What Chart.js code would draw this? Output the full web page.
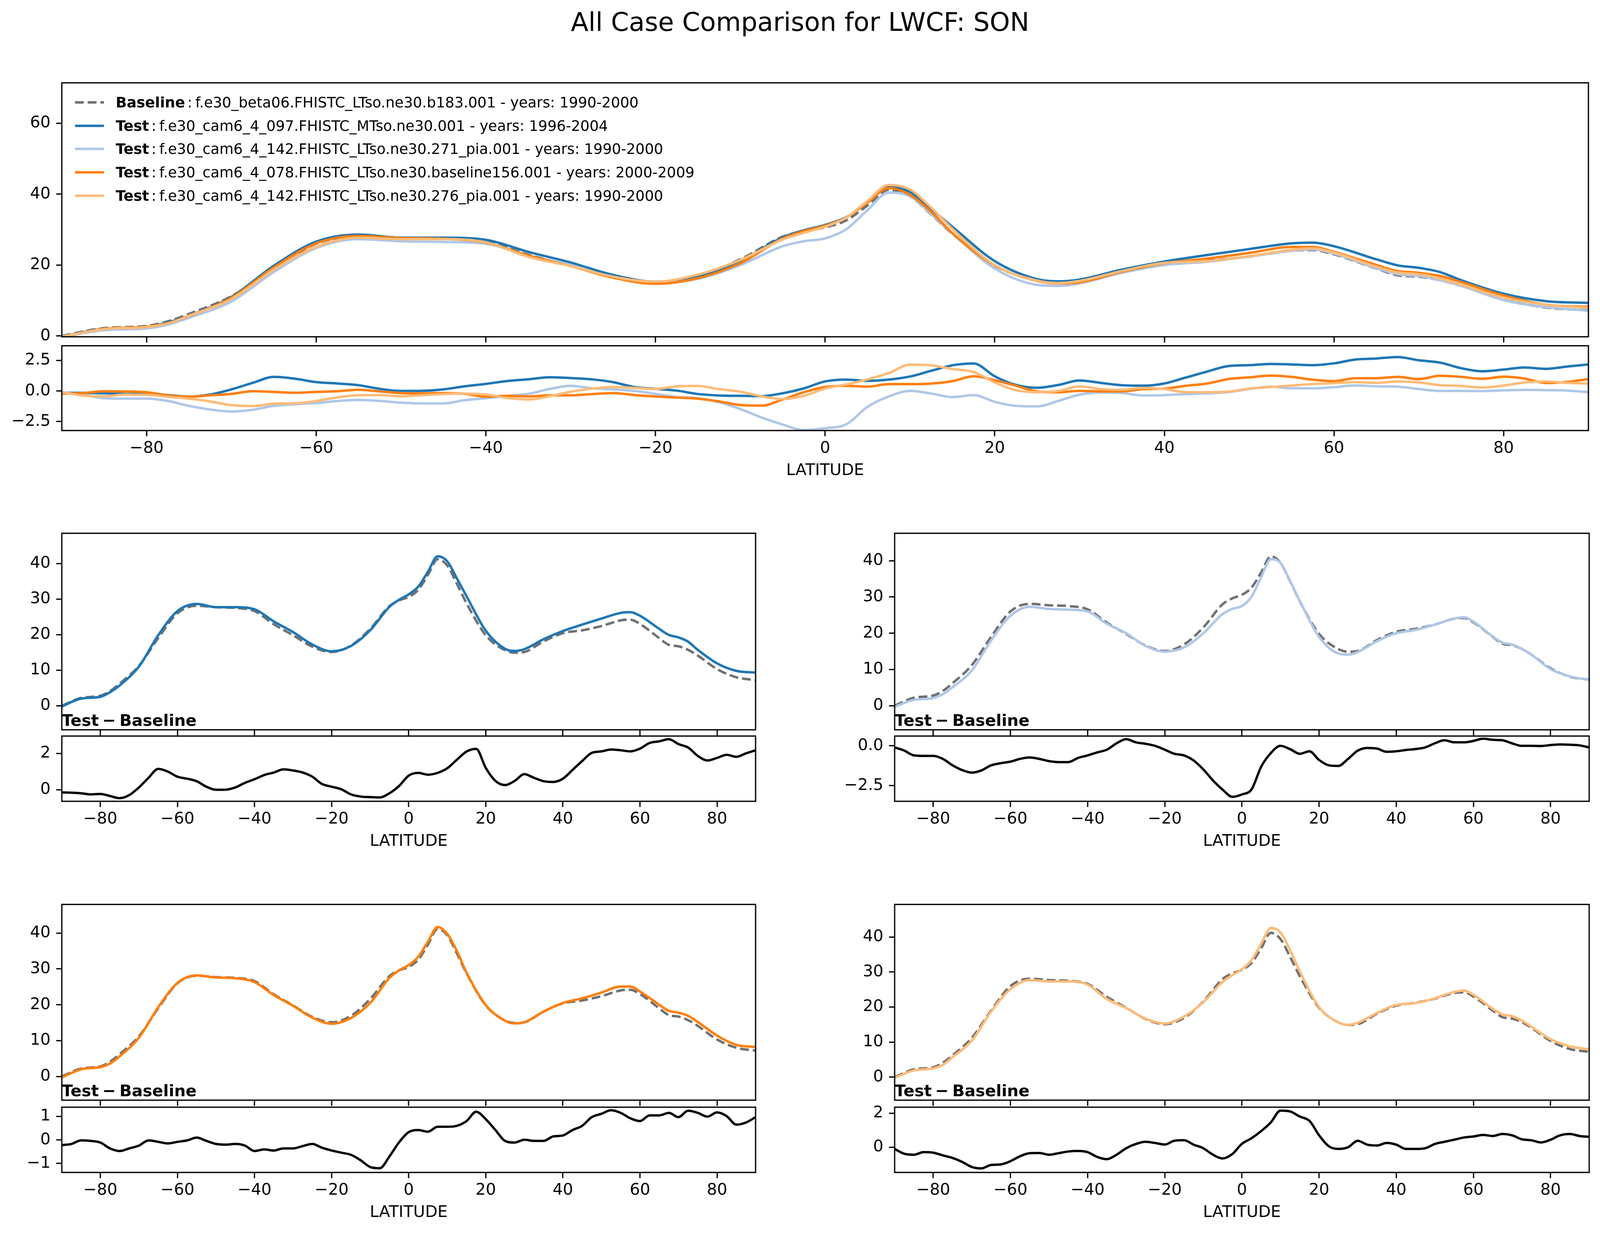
<!DOCTYPE html>
<html>
<head>
<meta charset="utf-8">
<title>All Case Comparison for LWCF: SON</title>
<script src="https://cdn.jsdelivr.net/npm/chart.js@4.4.1/dist/chart.umd.min.js"></script>
<style>
  html, body { margin: 0; padding: 0; background: #fff; overflow: hidden; }
  #page { position: absolute; left: 0; top: 0; width: 4142px; height: 3156px; transform-origin: 0 0; font-family: 'DejaVu Sans', sans-serif; color: #000; background: #fff; }
  .title { position: absolute; left: 0; top: 18px; width: 4142px; text-align: center; font-size: 66.7px; line-height: 1.164; }
  .tb { position: absolute; font-size: 41.7px; line-height: 1.164; font-weight: bold; white-space: nowrap; z-index: 2; }
  .leg { position: absolute; left: 194px; height: 44px; font-size: 37.5px; line-height: 44px; white-space: nowrap; display: flex; align-items: center; z-index: 2; }
  .leg span.t { margin-left: 30.5px; }
  .leg span.c { margin: 0 8px 0 6px; }
</style>
</head>
<body>
<div id="page">
<div class="title">All Case Comparison for LWCF: SON</div>
</div>

<script>
// latitude grid used for the zonal means
const latMain = [-90, -85, -80, -77.5, -75, -70, -65, -60, -55, -50, -45, -40, -35, -30, -25, -20, -15, -10, -5, -2.5,
  0, 2.5, 5, 7.5, 10, 12.5, 15, 20, 25, 27.5, 30, 35, 40, 45, 50, 55, 57.5, 60, 65, 67.5, 70, 72.5, 75, 80, 85, 90];

// LWCF zonal means (W/m2)
const baseline = [0.0, 2.2, 2.8, 4.1, 6.2, 11.2, 19.0, 26.0, 28.1, 27.7, 27.5, 26.6, 22.9, 19.8, 16.6, 15.1, 16.9, 21.6, 28.0, 29.6,
  30.6, 32.6, 36.8, 41.2, 39.4, 34.3, 28.8, 19.8, 15.6, 14.9, 15.1, 18.1, 20.4, 21.2, 22.4, 24.0, 24.2, 23.0, 19.0, 17.1, 16.7, 15.7, 14.1, 10.3, 8.0, 7.2];
const test097 = [-0.2, 2.0, 2.5, 3.8, 5.7, 11.0, 19.8, 26.6, 28.6, 27.7, 27.7, 27.1, 23.7, 20.7, 17.2, 15.3, 16.8, 21.2, 27.8, 29.8,
  31.3, 33.5, 37.7, 42.0, 40.6, 35.8, 30.8, 21.1, 16.0, 15.4, 15.9, 18.7, 21.0, 22.8, 24.5, 26.1, 26.3, 25.3, 21.6, 19.9, 19.2, 18.0, 15.7, 11.9, 9.8, 9.3];
const test271 = [-0.3, 1.6, 2.1, 3.2, 5.1, 9.7, 18.0, 24.8, 27.3, 26.7, 26.5, 26.0, 22.6, 20.0, 16.5, 14.9, 16.1, 20.0, 25.3, 26.7,
  27.5, 30.1, 35.5, 40.4, 39.4, 34.4, 28.9, 19.0, 14.4, 14.1, 14.8, 17.8, 20.0, 20.9, 22.4, 24.0, 24.4, 23.2, 19.1, 17.4, 16.9, 15.7, 14.1, 10.1, 8.1, 7.1];
const test156 = [-0.3, 2.0, 2.6, 3.6, 5.6, 10.8, 19.3, 26.1, 28.2, 27.6, 27.4, 26.3, 22.7, 19.7, 16.4, 14.7, 16.3, 20.5, 27.5, 29.6,
  31.1, 33.4, 37.6, 41.7, 39.8, 35.0, 29.0, 19.9, 15.5, 14.8, 15.1, 18.1, 20.5, 21.8, 23.4, 25.1, 25.1, 23.7, 20.0, 18.3, 17.8, 16.9, 15.2, 11.4, 8.8, 8.2];
const test276 = [-0.2, 1.9, 2.5, 3.5, 5.7, 10.4, 18.7, 25.1, 27.7, 27.3, 27.3, 26.4, 22.3, 19.7, 16.7, 15.3, 17.3, 21.4, 27.2, 29.1,
  30.8, 33.4, 38.1, 42.6, 41.3, 36.2, 30.2, 20.0, 15.6, 14.9, 15.5, 18.3, 20.6, 21.1, 22.5, 24.3, 24.7, 23.5, 19.5, 17.9, 17.4, 16.2, 14.4, 10.8, 8.8, 7.9];

// test minus baseline, finer grid
const latDiff = [-90, -87.5, -85, -82.5, -80, -77.5, -75, -72.5, -70, -67.5,
  -65, -62.5, -60, -57.5, -55, -52.5, -50, -47.5, -45, -42.5,
  -40, -37.5, -35, -32.5, -30, -27.5, -25, -22.5, -20, -17.5,
  -15, -12.5, -10, -7.5, -5, -2.5, 0, 2.5, 5, 7.5,
  10, 12.5, 15, 17.5, 20, 22.5, 25, 27.5, 30, 32.5,
  35, 37.5, 40, 42.5, 45, 47.5, 50, 52.5, 55, 57.5,
  60, 62.5, 65, 67.5, 70, 72.5, 75, 77.5, 80, 82.5,
  85, 87.5, 90];
const diff097 = [-0.14, -0.16, -0.19, -0.25, -0.23, -0.34, -0.46, -0.29, 0.13, 0.66,
  1.15, 1.00, 0.72, 0.61, 0.47, 0.17, 0.00, 0.01, 0.13, 0.38,
  0.58, 0.81, 0.95, 1.12, 1.06, 0.95, 0.72, 0.32, 0.17, 0.03,
  -0.25, -0.37, -0.40, -0.42, -0.19, 0.21, 0.78, 0.93, 0.83, 0.93,
  1.18, 1.65, 2.10, 2.25, 1.20, 0.49, 0.26, 0.49, 0.86, 0.66,
  0.47, 0.43, 0.61, 1.09, 1.58, 2.03, 2.11, 2.21, 2.17, 2.11,
  2.26, 2.57, 2.66, 2.78, 2.51, 2.32, 1.86, 1.61, 1.75, 1.92,
  1.81, 2.00, 2.17];
const diff271 = [-0.10, -0.30, -0.60, -0.63, -0.63, -0.82, -1.22, -1.52, -1.68, -1.54,
  -1.22, -1.09, -0.99, -0.82, -0.73, -0.82, -0.96, -1.02, -1.02, -0.76,
  -0.60, -0.41, -0.24, 0.16, 0.42, 0.22, 0.13, 0.00, -0.24, -0.50,
  -0.60, -0.92, -1.48, -2.17, -2.75, -3.20, -3.05, -2.73, -1.30, -0.45,
  0.00, -0.21, -0.50, -0.34, -0.89, -1.22, -1.26, -0.82, -0.30, -0.13,
  -0.17, -0.37, -0.34, -0.26, -0.20, -0.10, 0.16, 0.35, 0.22, 0.22,
  0.31, 0.45, 0.38, 0.35, 0.16, 0.00, 0.00, -0.01, 0.05, 0.09,
  0.07, 0.03, -0.10];
const diff156 = [-0.22, -0.17, -0.02, -0.04, -0.11, -0.36, -0.47, -0.36, -0.24, -0.02,
  -0.08, -0.15, -0.08, -0.02, 0.10, -0.04, -0.17, -0.20, -0.17, -0.24,
  -0.47, -0.40, -0.45, -0.36, -0.36, -0.26, -0.17, -0.33, -0.45, -0.54,
  -0.63, -0.86, -1.15, -1.20, -0.70, -0.10, 0.33, 0.42, 0.35, 0.56,
  0.56, 0.60, 0.80, 1.20, 0.88, 0.42, -0.04, -0.11, 0.01, -0.04,
  -0.04, 0.15, 0.19, 0.42, 0.60, 0.97, 1.11, 1.26, 1.15, 0.92,
  0.80, 1.04, 1.04, 1.15, 0.97, 1.24, 1.15, 0.99, 1.17, 1.01,
  0.65, 0.74, 0.97];
const diff276 = [-0.10, -0.38, -0.44, -0.29, -0.32, -0.48, -0.63, -0.86, -1.16, -1.24,
  -1.04, -1.01, -0.82, -0.53, -0.35, -0.34, -0.44, -0.35, -0.25, -0.22,
  -0.29, -0.57, -0.70, -0.44, -0.06, 0.19, 0.32, 0.25, 0.16, 0.38,
  0.41, 0.15, -0.06, -0.44, -0.66, -0.40, 0.20, 0.53, 0.95, 1.46,
  2.15, 2.10, 1.80, 1.55, 0.70, 0.06, -0.10, 0.00, 0.38, 0.15,
  0.10, 0.25, 0.15, -0.10, -0.10, -0.06, 0.19, 0.32, 0.44, 0.57,
  0.63, 0.72, 0.66, 0.78, 0.70, 0.47, 0.41, 0.28, 0.44, 0.70,
  0.78, 0.66, 0.61];

// ticks
const xTicks = [-80, -60, -40, -20, 0, 20, 40, 60, 80];
const topMainTicks = [0, 20, 40, 60];
const topDiffTicks = [-2.5, 0, 2.5];
const smallMainTicks = [0, 10, 20, 30, 40];

// legend text
const caseNames = [
  'f.e30_beta06.FHISTC_LTso.ne30.b183.001 - years: 1990-2000',
  'f.e30_cam6_4_097.FHISTC_MTso.ne30.001 - years: 1996-2004',
  'f.e30_cam6_4_142.FHISTC_LTso.ne30.271_pia.001 - years: 1990-2000',
  'f.e30_cam6_4_078.FHISTC_LTso.ne30.baseline156.001 - years: 2000-2009',
  'f.e30_cam6_4_142.FHISTC_LTso.ne30.276_pia.001 - years: 1990-2000'
];
const caseKinds = ['Baseline', 'Test', 'Test', 'Test', 'Test'];
const caseColors = ['#707070', '#1f77b4', '#aec7e8', '#ff7f0e', '#ffbb78'];

// the figure is laid out at 4142x3156; fit it to whatever viewport we get
const page = document.getElementById('page');
const sx = window.innerWidth / 4142, sy = window.innerHeight / 3156;
page.style.transform = 'scale(' + sx + ',' + sy + ')';

Chart.defaults.font.family = "'DejaVu Sans'";
Chart.defaults.color = '#000';

const fmt = (v, d) => (v < 0 ? '\u2212' : '') + Math.abs(v).toFixed(d);

// black box round every axes
const frame = {
  id: 'frame',
  afterDatasetsDraw(chart) {
    const a = chart.chartArea, c = chart.ctx;
    c.save();
    c.strokeStyle = '#000';
    c.lineWidth = 3.3;
    c.strokeRect(a.left, a.top, a.right - a.left, a.bottom - a.top);
    c.restore();
  }
};

function line(xs, ys, color, order, dashed, width) {
  return {
    data: xs.map((x, i) => ({ x: x, y: ys[i] })),
    borderColor: color,
    borderWidth: width || 6.25,
    borderDash: dashed ? [23, 10] : [],
    borderJoinStyle: 'round',
    pointRadius: 0,
    cubicInterpolationMode: 'monotone',
    fill: false,
    order: order
  };
}

function panel(r, datasets, yRange, yTicks, yDec, xLabels) {
  const padL = r.l > 1000 ? 220 : r.l;
  const padR = 26, padT = 14, padB = xLabels ? 140 : 24;
  const w = r.r - r.l + padL + padR, h = r.b - r.t + padT + padB;
  const cv = document.createElement('canvas');
  cv.width = w; cv.height = h;
  cv.style.cssText = 'position:absolute;left:' + (r.l - padL) + 'px;top:' + (r.t - padT) + 'px;width:' + w + 'px;height:' + h + 'px';
  page.appendChild(cv);

  const tickGrid = { drawOnChartArea: false, drawTicks: true, tickLength: 14.6, tickWidth: 3.3, tickColor: '#000', lineWidth: 3.3, color: '#000' };

  new Chart(cv, {
    type: 'line',
    data: { datasets: datasets },
    options: {
      responsive: false,
      animation: false,
      devicePixelRatio: 1,
      events: [],
      layout: { padding: { left: 0, top: padT, right: padR, bottom: 0 } },
      plugins: { legend: { display: false }, tooltip: { enabled: false } },
      scales: {
        x: {
          type: 'linear', min: -90, max: 90,
          grid: tickGrid, border: { display: false },
          afterBuildTicks: s => { s.ticks = xTicks.map(v => ({ value: v })); },
          afterFit: s => { s.height = padB; s.paddingLeft = 0; s.paddingRight = 0; },
          ticks: { autoSkip: false, maxRotation: 0, padding: 6.5, font: { size: 41.7 }, callback: v => xLabels ? fmt(v, 0) : '' },
          title: { display: xLabels, text: 'LATITUDE', font: { size: 41.7 }, padding: { top: 0, bottom: 12 } }
        },
        y: {
          type: 'linear', min: yRange[0], max: yRange[1],
          grid: tickGrid, border: { display: false },
          afterBuildTicks: s => { s.ticks = yTicks.map(v => ({ value: v })); },
          afterFit: s => { s.width = padL; s.paddingTop = 0; s.paddingBottom = 0; },
          ticks: { autoSkip: false, padding: 14.6, font: { size: 41.7 }, callback: v => fmt(v, yDec) }
        }
      }
    },
    plugins: [frame]
  });
}

const tests = [test097, test271, test156, test276];
const diffs = [diff097, diff271, diff156, diff276];

// top: all cases together
panel({ l: 160, t: 212, r: 4112, b: 862 },
  [line(latMain, baseline, caseColors[0], 5, true)].concat(tests.map((t, i) => line(latMain, t, caseColors[i + 1], 4 - i))),
  [-0.25, 71.4], topMainTicks, 0, false);
panel({ l: 160, t: 885, r: 4112, b: 1102 },
  diffs.map((d, i) => line(latDiff, d, caseColors[i + 1], 4 - i)),
  [-3.24, 3.70], topDiffTicks, 1, true);

// one panel pair per test case
const small = [
  { l: 160, r: 1956, t: 1365, b: 1868, dt: 1884, db: 2051, y: [-6.77, 48.48], dy: [-0.63, 2.95], dTicks: [0, 2], dDec: 0 },
  { l: 2316, r: 4114, t: 1365, b: 1868, dt: 1884, db: 2051, y: [-6.65, 47.57], dy: [-3.48, 0.615], dTicks: [-2.5, 0], dDec: 1 },
  { l: 160, r: 1956, t: 2315, b: 2816, dt: 2834, db: 3001, y: [-6.63, 48.0], dy: [-1.38, 1.39], dTicks: [-1, 0, 1], dDec: 0 },
  { l: 2316, r: 4114, t: 2315, b: 2816, dt: 2834, db: 3001, y: [-6.6, 49.3], dy: [-1.48, 2.35], dTicks: [0, 2], dDec: 0 }
];

small.forEach((p, i) => {
  panel({ l: p.l, t: p.t, r: p.r, b: p.b },
    [line(latMain, baseline, caseColors[0], 2, true), line(latMain, tests[i], caseColors[i + 1], 1)],
    p.y, smallMainTicks, 0, false);
  panel({ l: p.l, t: p.dt, r: p.r, b: p.db },
    [line(latDiff, diffs[i], '#000', 1, false, 6)],
    p.dy, p.dTicks, p.dDec, true);

  const tb = document.createElement('div');
  tb.className = 'tb';
  tb.style.left = p.l + 'px';
  tb.style.top = (p.b - 48.5) + 'px';
  tb.innerHTML = '<span>Test</span><span style="margin:0 9.3px">\u2212</span><span>Baseline</span>';
  page.appendChild(tb);
});

// legend inside the top axes
caseNames.forEach((name, i) => {
  const row = document.createElement('div');
  row.className = 'leg';
  row.style.top = (261.8 + i * 59.8 - 22) + 'px';
  const dash = i === 0 ? ' stroke-dasharray="23 10"' : '';
  row.innerHTML = '<svg width="75" height="44"><line x1="0" y1="22" x2="75" y2="22" stroke="' + caseColors[i] +
    '" stroke-width="6.25"' + dash + '/></svg><span class="t"><b>' + caseKinds[i] + '</b><span class="c">:</span>' + name + '</span>';
  page.appendChild(row);
});
</script>
</body>
</html>
